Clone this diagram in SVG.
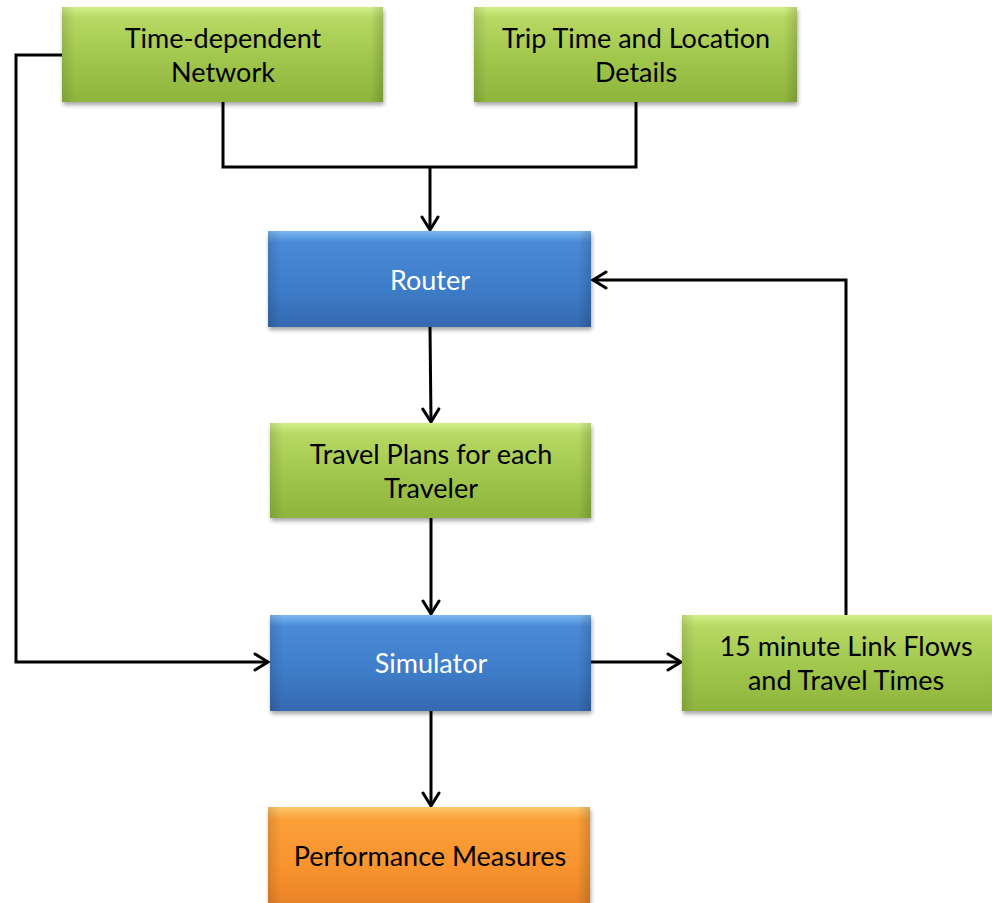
<svg xmlns="http://www.w3.org/2000/svg" width="992" height="903" viewBox="0 0 992 903">
<defs>
<linearGradient id="gGreen" x1="0" y1="0" x2="0" y2="1">
<stop offset="0" stop-color="#d2ef8a"/>
<stop offset="0.12" stop-color="#b7d862"/>
<stop offset="0.6" stop-color="#9ec44a"/>
<stop offset="1" stop-color="#8fb43d"/>
</linearGradient>
<linearGradient id="gBlue" x1="0" y1="0" x2="0" y2="1">
<stop offset="0" stop-color="#7cb8f0"/>
<stop offset="0.12" stop-color="#4a8ad8"/>
<stop offset="0.6" stop-color="#3e7cc8"/>
<stop offset="1" stop-color="#3569b0"/>
</linearGradient>
<linearGradient id="gOrange" x1="0" y1="0" x2="0" y2="1">
<stop offset="0" stop-color="#fdc870"/>
<stop offset="0.12" stop-color="#fba03a"/>
<stop offset="0.6" stop-color="#f8932e"/>
<stop offset="1" stop-color="#e8822a"/>
</linearGradient>
<linearGradient id="edgeShade" x1="0" y1="0" x2="1" y2="0">
<stop offset="0" stop-color="#000" stop-opacity="0.12"/>
<stop offset="0.04" stop-color="#000" stop-opacity="0"/>
<stop offset="0.96" stop-color="#000" stop-opacity="0"/>
<stop offset="1" stop-color="#000" stop-opacity="0.15"/>
</linearGradient>
<filter id="shadow" x="-5%" y="-10%" width="110%" height="125%">
<feGaussianBlur in="SourceAlpha" stdDeviation="2"/>
<feOffset dx="1" dy="3"/>
<feComponentTransfer><feFuncA type="linear" slope="0.35"/></feComponentTransfer>
<feMerge><feMergeNode/><feMergeNode in="SourceGraphic"/></feMerge>
</filter>
<marker id="arrow" viewBox="0 0 20 20" refX="17" refY="10" markerWidth="20" markerHeight="20" markerUnits="userSpaceOnUse" orient="auto">
<path d="M4,2 L17,10 L4,18" fill="none" stroke="#000" stroke-width="3" stroke-linecap="round" stroke-linejoin="miter"/>
</marker>
</defs>
<style>
.box { filter: url(#shadow); }
.green { fill: url(#gGreen); }
.blue { fill: url(#gBlue); }
.orange { fill: url(#gOrange); }
.shade { fill: url(#edgeShade); }
.t { font-family: Lato, "Noto Sans", sans-serif; font-size: 27px; text-anchor: middle; fill: #000; }
.tw { fill: #fff; }
.conn { fill: none; stroke: #000; stroke-width: 3; }
</style>
<rect width="992" height="903" fill="#fff"/>

<g id="connectors">
<polyline class="conn" points="62,55 16,55 16,662 268,662" marker-end="url(#arrow)"/>
<polyline class="conn" points="223,102 223,167 636,167 636,102"/>
<line class="conn" x1="430" y1="167" x2="430" y2="230" marker-end="url(#arrow)"/>
<line class="conn" x1="430" y1="327" x2="431" y2="422" marker-end="url(#arrow)"/>
<line class="conn" x1="431" y1="518" x2="431" y2="614" marker-end="url(#arrow)"/>
<line class="conn" x1="591" y1="662" x2="681" y2="662" marker-end="url(#arrow)"/>
<polyline class="conn" points="846,615 846,280 593,280" marker-end="url(#arrow)"/>
<line class="conn" x1="431" y1="711" x2="431" y2="806" marker-end="url(#arrow)"/>
</g>

<g id="node-time-dependent-network">
<rect class="box green" x="62" y="7" width="321" height="95"/>
<rect class="shade" x="62" y="7" width="321" height="95"/>
<text class="t" x="223" y="48">Time-dependent</text>
<text class="t" x="223" y="82">Network</text>
</g>

<g id="node-trip-time">
<rect class="box green" x="474" y="7" width="323" height="95"/>
<rect class="shade" x="474" y="7" width="323" height="95"/>
<text class="t" x="636" y="48">Trip Time and Location</text>
<text class="t" x="636" y="82">Details</text>
</g>

<g id="node-router">
<rect class="box blue" x="268" y="231" width="323" height="96"/>
<rect class="shade" x="268" y="231" width="323" height="96"/>
<text class="t tw" x="430" y="290">Router</text>
</g>

<g id="node-travel-plans">
<rect class="box green" x="270" y="423" width="321" height="95"/>
<rect class="shade" x="270" y="423" width="321" height="95"/>
<text class="t" x="431" y="464">Travel Plans for each</text>
<text class="t" x="431" y="498">Traveler</text>
</g>

<g id="node-simulator">
<rect class="box blue" x="270" y="615" width="321" height="96"/>
<rect class="shade" x="270" y="615" width="321" height="96"/>
<text class="t tw" x="431" y="673">Simulator</text>
</g>

<g id="node-link-flows">
<rect class="box green" x="682" y="615" width="322" height="96"/>
<rect class="shade" x="682" y="615" width="322" height="96"/>
<text class="t" x="846" y="656">15 minute Link Flows</text>
<text class="t" x="846" y="690">and Travel Times</text>
</g>

<g id="node-performance">
<rect class="box orange" x="268" y="807" width="322" height="100"/>
<rect class="shade" x="268" y="807" width="322" height="100"/>
<text class="t" x="430" y="866">Performance Measures</text>
</g>
</svg>
